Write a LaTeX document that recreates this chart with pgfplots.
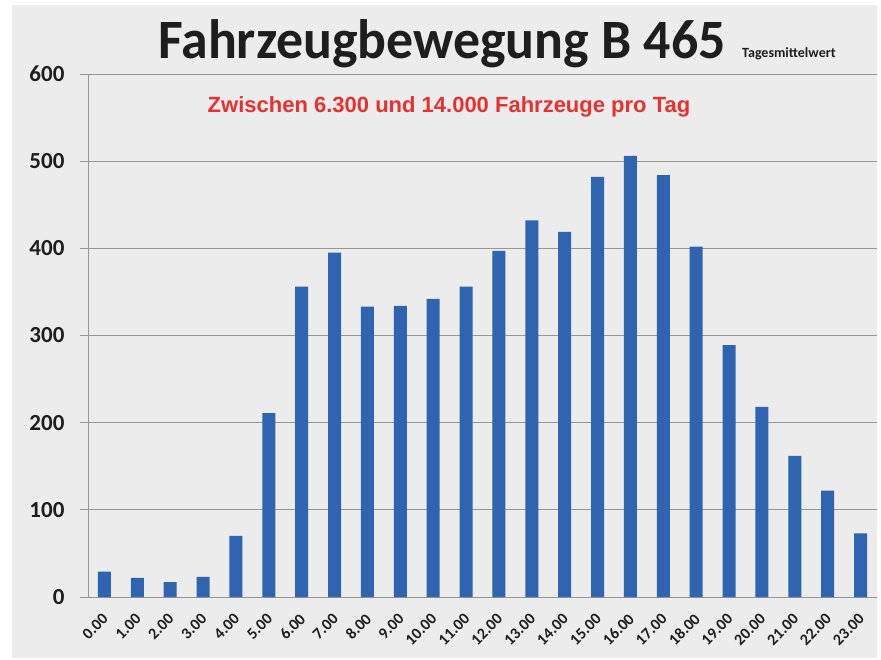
\documentclass[border=0pt]{standalone}
\usepackage{pgfplots}
\pgfplotsset{compat=1.18}
\usepackage{fontspec}
\setmainfont{Carlito}
\newfontfamily\arialfont{Liberation Sans}
\definecolor{bg}{RGB}{236,236,236}
\definecolor{barblue}{RGB}{47,100,176}
\definecolor{gridgray}{RGB}{150,150,150}
\definecolor{txtred}{RGB}{232,48,47}
\definecolor{txtblack}{RGB}{30,30,30}
\pgfplotstableread{
x y
0 29
1 22
2 17
3 23
4 70
5 211
6 356
7 395
8 333
9 334
10 342
11 356
12 397
13 432
14 419
15 482
16 506
17 484
18 402
19 289
20 218
21 162
22 122
23 73
}\datatable
\begin{document}
\begin{tikzpicture}[x=1pt,y=1pt]
\fill[white] (0,0) rectangle (881,659);
\fill[bg] (12,1) rectangle (877,654);
\begin{axis}[
  at={(88pt,62pt)}, anchor=south west,
  scale only axis, width=789pt, height=523pt,
  xmin=-0.5, xmax=23.5, ymin=0, ymax=600,
  axis x line*=bottom, axis y line*=left,
  axis line style={gridgray, line width=0.8pt, -},
  ytick={0,100,...,600},
  ymajorgrids, grid style={gridgray, line width=0.8pt},
  xtick={0,...,23},
  xticklabels={0.00,1.00,2.00,3.00,4.00,5.00,6.00,7.00,8.00,9.00,10.00,11.00,12.00,13.00,14.00,15.00,16.00,17.00,18.00,19.00,20.00,21.00,22.00,23.00},
  minor xtick={-0.5,0.5,...,23.5},
  tick align=outside,
  major tick length=0pt,
  ytick style={gridgray, line width=0.8pt},
  xtick style={draw=none},
  minor tick style={gridgray, line width=0.8pt},
  minor tick length=6pt,
  extra y ticks={0,100,...,600}, extra y tick labels={},
  extra y tick style={major tick length=8pt, tick style={gridgray, line width=0.8pt}, grid=none},
  yticklabel style={font=\fontsize{23}{25}\selectfont\bfseries, text=txtblack, anchor=east, xshift=-20pt},
  xticklabel style={font=\fontsize{16}{18}\selectfont\bfseries, text=txtblack, xshift=-3pt, yshift=-14pt, rotate=45, anchor=north east, inner sep=1pt},
  /pgf/number format/assume math mode=true,
  clip=false,
]
\addplot[ybar, bar width=13pt, fill=barblue, draw=none] table[x=x,y=y] {\datatable};
\end{axis}
\node[anchor=base west, inner sep=0pt, xscale=0.97, font=\fontsize{55.5}{60}\selectfont\bfseries, text=txtblack] at (158,600) {Fahrzeugbewegung B 465};
\node[anchor=base west, inner sep=0pt, font=\fontsize{14}{16}\selectfont\bfseries, text=txtblack] at (742,601) {Tagesmittelwert};
\node[anchor=base, inner sep=0pt, font=\arialfont\fontsize{22}{24}\selectfont\bfseries, text=txtred] at (449,546) {Zwischen 6.300 und 14.000 Fahrzeuge pro Tag};
\end{tikzpicture}
\end{document}
